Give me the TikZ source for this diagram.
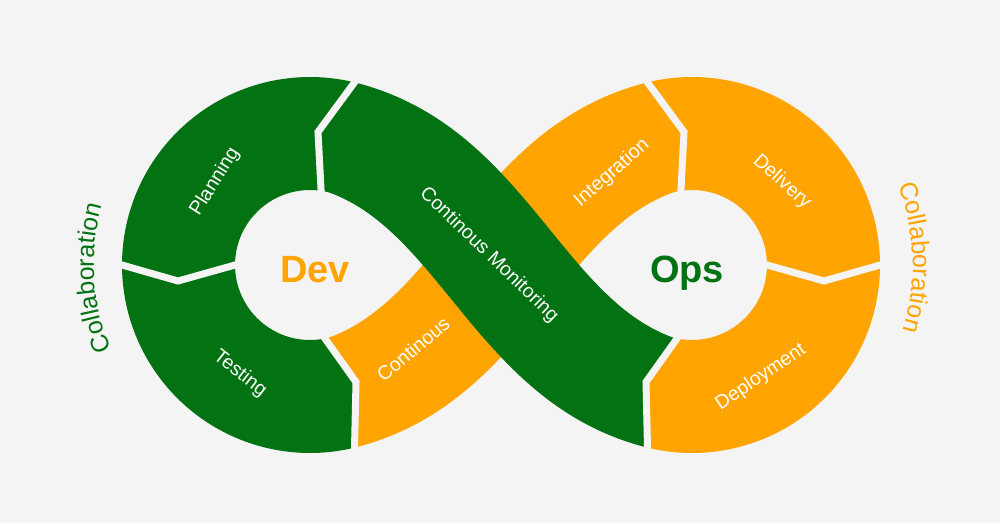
\documentclass[tikz,border=0pt]{standalone}
\usepackage{fontspec}
\setmainfont{Liberation Sans}
\usetikzlibrary{calc,decorations.text}
\definecolor{bgc}{HTML}{F4F4F4}
\definecolor{grn}{HTML}{037212}
\definecolor{org}{HTML}{FFA400}
\begin{document}
\begin{tikzpicture}[x=1pt,y=1pt,
  lbl/.style={text=white,font=\fontsize{19.5}{22}\selectfont,inner sep=0pt},
  big/.style={font=\bfseries\fontsize{38}{40}\selectfont,anchor=base,inner sep=0pt},
  gap/.style={draw=bgc,line width=7pt,line join=miter,line cap=butt}]
\fill[bgc] (0,0) rectangle (1000,523);
\useasboundingbox (0,0) rectangle (1000,523);
\coordinate (L) at (310,258);
\coordinate (R) at (692,258);
% segment boundaries (chevrons)
\coordinate (G1o) at ($(L)+(76.3:188)$);
\coordinate (G1k) at (318,391);
\coordinate (G1i) at ($(L)+(81.5:75)$);
\coordinate (G2o) at ($(L)+(180:188)$);
\coordinate (G2k) at (178,242);
\coordinate (G2i) at ($(L)+(180:75)$);
\coordinate (G3o) at ($(L)+(-76.3:188)$);
\coordinate (G3k) at (356,141);
\coordinate (G3i) at ($(L)+(-78.5:75)$);
\coordinate (G4o) at ($(R)+(103.7:188)$);
\coordinate (G4k) at (684,391);
\coordinate (G4i) at ($(R)+(98.5:75)$);
\coordinate (G5o) at ($(R)+(0:188)$);
\coordinate (G5k) at (824,242);
\coordinate (G5i) at ($(R)+(0:75)$);
\coordinate (G6o) at ($(R)+(-103.7:188)$);
\coordinate (G6k) at (646,141);
\coordinate (G6i) at ($(R)+(-101.5:75)$);
% crossing band edges
\coordinate (A0) at ($(L)+(75:188)$);
\coordinate (A3) at ($(R)+(-105:75)$);
\coordinate (A1) at ($(A0)+(-15:170)$);
\coordinate (A2) at ($(A3)+(160:120)$);
\coordinate (B0) at ($(L)+(75:75)$);
\coordinate (B3) at ($(R)+(-105:188)$);
\coordinate (B1) at ($(B0)+(-20:120)$);
\coordinate (B2) at ($(B3)+(165:170)$);
\coordinate (C0) at ($(L)+(-75:188)$);
\coordinate (C3) at ($(R)+(105:75)$);
\coordinate (C1) at ($(C0)+(15:170)$);
\coordinate (C2) at ($(C3)+(200:120)$);
\coordinate (D0) at ($(L)+(-75:75)$);
\coordinate (D3) at ($(R)+(105:188)$);
\coordinate (D1) at ($(D0)+(20:120)$);
\coordinate (D2) at ($(D3)+(195:170)$);
% Planning
\fill[grn] (G2o) arc[start angle=180,end angle=76.3,radius=188] -- (G1k) -- (G1i)
  arc[start angle=81.5,end angle=180,radius=75] -- (G2k) -- cycle;
% Testing
\fill[grn] (G3o) arc[start angle=-76.3,end angle=-180,radius=188] -- (G2k) -- (G2i)
  arc[start angle=180,end angle=281.5,radius=75] -- (G3k) -- cycle;
% Continous Integration band
\fill[org] (G3o) arc[start angle=-76.3,end angle=-75,radius=188]
  .. controls (C1) and (C2) .. (C3)
  arc[start angle=105,end angle=98.5,radius=75] -- (G4k) -- (G4o)
  arc[start angle=103.7,end angle=105,radius=188]
  .. controls (D2) and (D1) .. (D0)
  arc[start angle=-75,end angle=-78.5,radius=75] -- (G3k) -- cycle;
% Delivery
\fill[org] (G4o) arc[start angle=103.7,end angle=0,radius=188] -- (G5k) -- (G5i)
  arc[start angle=0,end angle=98.5,radius=75] -- (G4k) -- cycle;
% Deployment
\fill[org] (G5o) arc[start angle=0,end angle=-103.7,radius=188] -- (G6k) -- (G6i)
  arc[start angle=-101.5,end angle=0,radius=75] -- (G5k) -- cycle;
% Continous Monitoring band
\fill[grn] (G1o) arc[start angle=76.3,end angle=75,radius=188]
  .. controls (A1) and (A2) .. (A3)
  arc[start angle=-105,end angle=-101.5,radius=75] -- (G6k) -- (G6o)
  arc[start angle=-103.7,end angle=-105,radius=188]
  .. controls (B2) and (B1) .. (B0)
  arc[start angle=75,end angle=81.5,radius=75] -- (G1k) -- cycle;
% gaps
\draw[gap] ($(G1k)!1.15!(G1o)$) -- (G1k) -- ($(G1k)!1.15!(G1i)$);
\draw[gap] ($(G2k)!1.12!(G2o)$) -- (G2k) -- ($(G2k)!1.12!(G2i)$);
\draw[gap] ($(G3k)!1.12!(G3o)$) -- (G3k) -- ($(G3k)!1.15!(G3i)$);
\draw[gap] ($(G4k)!1.15!(G4o)$) -- (G4k) -- ($(G4k)!1.15!(G4i)$);
\draw[gap] ($(G5k)!1.12!(G5o)$) -- (G5k) -- ($(G5k)!1.12!(G5i)$);
\draw[gap] ($(G6k)!1.12!(G6o)$) -- (G6k) -- ($(G6k)!1.15!(G6i)$);
% labels
\node[lbl,rotate=58] (planning) at (215,341) {Planning};
\node[lbl,rotate=-38] (testing) at (240,149) {Testing};
\node[lbl,rotate=40] (cont) at (413,174) {Continous};
\node[lbl,rotate=41] (integ) at (612,350) {Integration};
\node[lbl,rotate=-44] (monit) at (489,268) {Continous Monitoring};
\node[lbl,rotate=-42] (deliv) at (782,341) {Delivery};
\node[lbl,rotate=34] (deploy) at (761,146) {Deployment};
\node[big,text=org] (dev) at (315,241) {Dev};
\node[big,text=grn] (ops) at (687,241) {Ops};
% Collaboration
\path[decorate,decoration={text along path,text align=center,
  text={|\color{grn}\fontsize{25}{28}\selectfont|Collaboration}}]
  (L) ++(223.5:216) arc[start angle=223.5,end angle=143.5,radius=216];
\path[decorate,decoration={text along path,text align=center,
  text={|\color{org}\fontsize{25}{28}\selectfont|Collaboration}}]
  (R) ++(41.9:221) arc[start angle=41.9,end angle=-38.1,radius=221];
\end{tikzpicture}
\end{document}
